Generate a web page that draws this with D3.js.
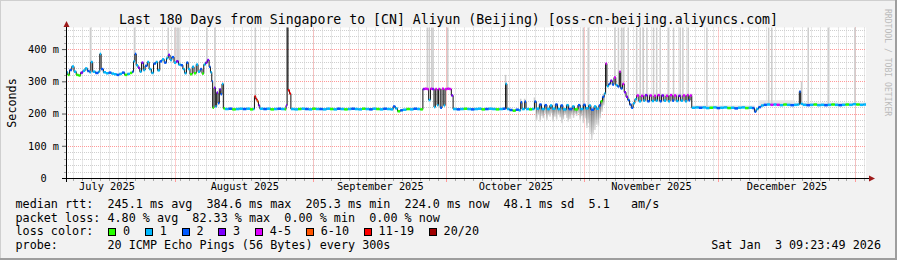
<!DOCTYPE html>
<html>
<head>
<meta charset="utf-8">
<script src="https://cdn.jsdelivr.net/npm/d3@7"></script>
<style>
  body { margin: 0; background: #f2f2f2; }
  text { font-family: "DejaVu Sans Mono", monospace; white-space: pre; }
</style>
</head>
<body>
<div id="viz"></div>
<script>
var width = 897;
var height = 260;

var start = new Date(2025, 6, 7, 9, 23, 49);
var end = new Date(2026, 0, 3, 9, 23, 49);
var DAY = 864e5;

var title = "Last 180 Days from Singapore to [CN] Aliyun (Beijing) [oss-cn-beijing.aliyuncs.com]";
var lossLabels = ["0", "1", "2", "3", "4-5", "6-10", "11-19", "20/20"];
var lossColors = ["#26ff00", "#00b8ff", "#0059ff", "#7e00ff", "#dd00ff", "#ff5500", "#ff0000", "#a00000"];
var yTicks = [0, 100, 200, 300, 400];
var yMax = 467;

// median rtt: [days since start, ms, loss bucket]
var median = [
  [0.0, 328, 1], [0.4, 320, 0], [0.8, 335, 2], [1.3, 346, 1], [1.8, 330, 1], [2.3, 320, 0],
  [2.8, 318, 0], [3.3, 327, 3], [3.8, 333, 1], [4.3, 340, 1], [4.8, 332, 2], [5.3, 328, 1],
  [5.6, 360, 1], [6.0, 330, 1], [6.6, 326, 2], [7.3, 330, 1], [7.6, 385, 1], [7.9, 338, 2],
  [8.4, 328, 1], [9.0, 325, 1], [9.6, 327, 2], [10.2, 324, 1], [10.8, 322, 1], [11.4, 320, 2],
  [12.0, 323, 1], [12.6, 327, 2], [13.2, 320, 0], [13.8, 323, 1], [14.4, 326, 0], [14.9, 330, 2],
  [15.2, 362, 1], [15.5, 385, 2], [15.8, 350, 1], [16.2, 342, 3], [16.6, 330, 1], [17.0, 358, 3],
  [17.4, 335, 1], [17.8, 348, 2], [18.3, 360, 1], [18.7, 338, 1], [19.2, 326, 1], [19.7, 355, 2],
  [20.2, 360, 1], [20.6, 334, 1], [21.1, 362, 2], [21.6, 368, 1], [22.1, 358, 2], [22.6, 372, 1],
  [23.0, 382, 3], [23.4, 366, 1], [23.8, 375, 2], [24.3, 358, 1], [24.8, 362, 3], [25.3, 352, 1],
  [25.8, 350, 2], [26.3, 338, 1], [26.7, 325, 1], [27.1, 358, 2], [27.5, 338, 1], [27.9, 322, 0],
  [28.4, 345, 1], [28.8, 325, 0], [29.3, 352, 1], [29.7, 330, 1], [30.2, 338, 2], [30.6, 324, 0],
  [31.0, 352, 1], [31.4, 358, 3], [31.8, 366, 3], [32.2, 345, 2], [32.5, 328, 1], [32.8, 300, 2],
  [33.0, 218, 0], [33.3, 280, 3], [33.6, 222, 1], [33.9, 265, 3], [34.2, 232, 2], [34.5, 275, 3],
  [34.8, 260, 2], [35.1, 292, 1], [35.4, 216, 0], [35.8, 214, 1],
  [36.6, 215, 2], [37.4, 213, 0], [38.2, 214, 1], [39.0, 215, 1], [39.8, 214, 2], [40.6, 215, 1],
  [41.4, 213, 0], [42.1, 214, 1], [42.4, 253, 6], [42.7, 245, 6], [43.0, 238, 5], [43.3, 225, 3],
  [43.6, 215, 1], [44.4, 214, 2], [45.2, 215, 1], [46.0, 213, 0], [46.8, 214, 1], [47.6, 215, 2],
  [48.4, 214, 1], [49.2, 213, 0], [49.5, 225, 3], [49.75, 480, 7], [49.95, 272, 6], [50.3, 262, 6],
  [50.6, 214, 1], [51.4, 213, 1], [52.2, 214, 0], [53.0, 215, 1], [53.8, 214, 2], [54.6, 213, 1],
  [55.4, 215, 0], [56.2, 214, 1], [57.0, 214, 2], [57.8, 213, 1], [58.6, 215, 1], [59.4, 214, 0],
  [60.2, 213, 1], [61.0, 215, 2], [61.8, 214, 1], [62.6, 213, 0], [63.4, 214, 1], [64.2, 215, 2],
  [65.0, 214, 1], [65.8, 213, 1], [66.6, 215, 0], [67.4, 214, 1], [68.2, 213, 2], [69.0, 215, 1],
  [69.8, 214, 0], [70.6, 213, 1], [71.4, 215, 2], [72.2, 214, 1], [73.0, 213, 1], [73.6, 222, 2],
  [74.1, 216, 1], [74.6, 207, 0], [75.2, 210, 2], [75.8, 212, 1], [76.6, 214, 0], [77.4, 213, 1],
  [78.2, 215, 2], [79.0, 214, 1], [79.7, 213, 0],
  [80.3, 276, 3], [80.7, 277, 4], [81.2, 276, 4], [81.6, 242, 1], [82.0, 277, 4], [82.4, 276, 3],
  [82.8, 220, 1], [83.1, 276, 4], [83.5, 226, 1], [83.8, 276, 4], [84.2, 218, 2], [84.6, 277, 4],
  [85.0, 225, 1], [85.3, 276, 4], [85.8, 277, 4], [86.3, 276, 4], [86.7, 256, 3], [87.1, 214, 1],
  [87.9, 213, 2], [88.7, 214, 1], [89.5, 215, 0], [90.3, 214, 1], [91.1, 213, 2], [91.9, 214, 1],
  [92.7, 215, 1], [93.5, 213, 0], [94.3, 214, 2], [95.1, 215, 1], [95.9, 214, 1], [96.7, 213, 0],
  [97.5, 214, 1], [98.3, 215, 2], [98.9, 292, 1], [99.2, 214, 1], [99.8, 211, 2], [100.5, 209, 0],
  [101.2, 212, 2], [101.9, 210, 1], [102.3, 235, 2], [102.6, 214, 1], [103.2, 237, 2], [103.5, 214, 1],
  [104.2, 213, 0], [104.9, 214, 1], [105.4, 237, 2], [105.8, 215, 1],
  [106.5, 228, 2], [107.0, 214, 1], [107.7, 226, 2], [108.2, 214, 1], [108.9, 225, 1], [109.4, 215, 1],
  [110.1, 228, 2], [110.6, 214, 1], [111.3, 225, 2], [111.8, 213, 1], [112.6, 226, 1], [113.1, 214, 2],
  [113.9, 222, 1], [114.4, 213, 0], [115.2, 226, 2], [115.7, 214, 1], [116.4, 227, 2], [116.9, 216, 1],
  [117.6, 225, 1], [118.1, 212, 2], [118.8, 222, 1], [119.3, 215, 1],
  [119.9, 225, 2], [120.3, 238, 0], [120.7, 252, 2], [121.1, 262, 1], [121.4, 355, 4], [121.7, 285, 1],
  [122.1, 292, 2], [122.5, 302, 3], [122.9, 290, 2], [123.3, 312, 4], [123.7, 288, 1], [124.1, 284, 2],
  [124.5, 330, 4], [124.8, 278, 2], [125.2, 292, 4], [125.6, 266, 3], [126.0, 252, 3], [126.4, 242, 2],
  [126.8, 228, 2], [127.2, 218, 2], [127.6, 232, 1], [128.0, 244, 1],
  [128.4, 256, 4], [128.9, 238, 1], [129.4, 255, 4], [129.9, 240, 1], [130.3, 257, 3], [130.8, 238, 2],
  [131.3, 256, 4], [131.8, 239, 1], [132.3, 255, 4], [132.7, 240, 1], [133.1, 257, 4], [133.6, 238, 2],
  [134.0, 256, 3], [134.5, 240, 1], [135.0, 255, 4], [135.5, 238, 1], [135.9, 257, 4], [136.4, 240, 2],
  [136.8, 256, 4], [137.3, 239, 1], [137.8, 255, 3], [138.3, 240, 1], [138.8, 256, 4], [139.3, 238, 1],
  [139.7, 257, 4], [140.1, 241, 2], [140.4, 256, 4], [140.8, 218, 1],
  [141.6, 219, 1], [142.4, 218, 2], [143.2, 219, 1], [144.0, 217, 1], [144.8, 218, 0], [145.6, 219, 1],
  [146.4, 217, 2], [147.2, 218, 1], [148.0, 219, 1], [148.8, 217, 0], [149.6, 218, 1], [150.4, 216, 2],
  [151.2, 218, 1], [152.0, 219, 1], [152.8, 217, 0], [153.6, 218, 1], [154.4, 217, 2], [154.9, 206, 2],
  [155.3, 214, 1], [155.8, 220, 2], [156.4, 225, 1], [157.0, 227, 2], [157.7, 228, 1], [158.5, 227, 4],
  [159.2, 228, 1], [159.9, 227, 4], [160.6, 226, 1], [161.4, 228, 0], [162.2, 227, 1], [163.0, 226, 2],
  [163.8, 227, 1], [164.6, 228, 1], [165.0, 268, 2], [165.3, 230, 1], [165.8, 227, 1], [166.6, 226, 2],
  [167.4, 227, 1], [168.2, 228, 0], [169.0, 226, 1], [169.8, 227, 1], [170.6, 226, 2], [171.4, 227, 1],
  [172.2, 228, 0], [173.0, 227, 1], [173.8, 226, 2], [174.6, 227, 1], [175.4, 228, 0], [176.2, 227, 1],
  [177.0, 229, 1], [177.8, 228, 0], [178.6, 227, 1], [179.4, 228, 1]
];

// light smoke streaks: [day, from ms, to ms]
var smokeTall = [
  [5.5, 335, 480], [15.4, 360, 480], [23.0, 380, 480], [24.5, 360, 480], [25.0, 360, 480],
  [25.4, 355, 480], [31.7, 360, 480], [33.5, 280, 480], [42.6, 250, 480], [81.3, 276, 480],
  [81.75, 276, 480], [82.3, 276, 480], [82.6, 276, 480], [85.9, 276, 480], [98.9, 292, 320],
  [102.3, 235, 246], [103.2, 237, 246], [105.4, 237, 250], [116.4, 227, 480], [117.5, 225, 480],
  [123.5, 300, 480], [124.3, 290, 480], [125.0, 280, 480], [125.4, 290, 480], [126.5, 240, 480],
  [128.4, 256, 480], [129.2, 250, 480], [129.9, 250, 480], [130.7, 250, 480], [132.2, 255, 480],
  [132.9, 255, 480], [133.7, 255, 480], [135.5, 250, 480], [136.7, 255, 480], [138.2, 250, 480],
  [138.8, 256, 480], [140.0, 250, 480], [144.2, 220, 480], [158.1, 228, 480], [158.8, 228, 480],
  [165.5, 235, 300], [167.0, 228, 480], [171.5, 228, 480], [177.5, 230, 480]
];

// dark smoke below the median: [day, low ms]
var smokeLow = [
  [105.9, 180], [106.3, 195], [106.7, 175], [107.1, 192], [107.4, 185], [107.8, 198], [108.2, 180],
  [108.6, 195], [108.9, 190], [109.3, 200], [109.6, 175], [110.0, 190], [110.4, 181], [110.8, 196],
  [111.2, 188], [111.6, 170], [111.9, 182], [112.3, 196], [112.7, 186], [113.0, 175], [113.4, 183],
  [113.8, 195], [114.2, 186], [114.5, 198], [114.9, 192], [115.3, 200], [115.7, 180], [116.0, 192],
  [116.4, 170], [116.8, 185], [117.2, 155], [117.6, 170], [117.9, 140], [118.3, 118], [118.6, 135],
  [119.0, 149], [119.4, 165], [119.8, 160], [120.2, 185], [120.6, 205], [121.0, 225]
];

// faint smoke bands: [from day, to day, low ms, high ms]
var smokeBand = [
  [128.4, 140.8, 236, 262], [141, 155, 219, 225], [156, 164, 227, 241], [164, 180, 227, 234]
];

var statLines = [
  "median rtt:  245.1 ms avg  384.6 ms max  205.3 ms min  224.0 ms now  48.1 ms sd  5.1   am/s",
  "packet loss: 4.80 % avg  82.33 % max  0.00 % min  0.00 % now"
];
var probeLine = "probe:       20 ICMP Echo Pings (56 Bytes) every 300s";
var stamp = "Sat Jan  3 09:23:49 2026";

function day(d) { return new Date(+start + d * DAY); }

var x = d3.scaleTime().domain([start, end]).range([66, 866]);
var y = d3.scaleLinear().domain([0, yMax]).range([178, 27.5]);
var bis = d3.bisector(function(p) { return p[0]; }).right;
function medAt(d) { return median[Math.max(0, bis(median, d) - 1)][1]; }

var svg = d3.select("#viz").append("svg")
    .attr("width", width)
    .attr("height", height);

svg.append("rect").attr("width", width).attr("height", height).attr("fill", "#f2f2f2");
svg.append("rect").attr("width", width).attr("height", 1).attr("fill", "#cfcfcf");
svg.append("rect").attr("width", 1).attr("height", height).attr("fill", "#cfcfcf");
svg.append("rect").attr("y", height - 2).attr("width", width).attr("height", 2).attr("fill", "#9e9e9e");
svg.append("rect").attr("x", width - 2).attr("width", 2).attr("height", height).attr("fill", "#9e9e9e");

var defs = svg.append("defs");
defs.append("clipPath").attr("id", "plot")
  .append("rect")
    .attr("x", x(start)).attr("y", y(yMax))
    .attr("width", x(end) - x(start)).attr("height", y(0) - y(yMax));
var grad = defs.append("linearGradient").attr("id", "smoke")
    .attr("x1", 0).attr("y1", 0).attr("x2", 0).attr("y2", 1);
grad.append("stop").attr("offset", "0%").attr("stop-color", "#7a7a7a");
grad.append("stop").attr("offset", "100%").attr("stop-color", "#dedede");

// canvas
svg.append("rect")
    .attr("x", x(start)).attr("y", y(yMax))
    .attr("width", x(end) - x(start)).attr("height", y(0) - y(yMax))
    .attr("fill", "#ffffff");

// grid
var minorDays = d3.timeDay.range(d3.timeDay.floor(start), end, 2).filter(function(t) { return t > start; });
var months = d3.timeMonth.range(start, end);
var minorY = d3.range(20, yMax, 20).filter(function(v) { return v % 100; });
var majorY = yTicks.filter(function(v) { return v > 0; });

var grid = svg.append("g").attr("fill", "none").attr("stroke-width", 1).attr("stroke-dasharray", "1,1");
grid.selectAll(".vmin").data(minorDays).enter().append("line")
    .attr("x1", function(t) { return Math.round(x(t)) + 0.5; })
    .attr("x2", function(t) { return Math.round(x(t)) + 0.5; })
    .attr("y1", y(yMax)).attr("y2", y(0))
    .attr("stroke", "#cfcfcf");
grid.selectAll(".hmin").data(minorY).enter().append("line")
    .attr("x1", x(start)).attr("x2", x(end))
    .attr("y1", function(v) { return Math.round(y(v)) + 0.5; })
    .attr("y2", function(v) { return Math.round(y(v)) + 0.5; })
    .attr("stroke", "#cfcfcf");
grid.selectAll(".vmaj").data(months).enter().append("line")
    .attr("x1", function(t) { return Math.round(x(t)) + 0.5; })
    .attr("x2", function(t) { return Math.round(x(t)) + 0.5; })
    .attr("y1", y(yMax)).attr("y2", y(0))
    .attr("stroke", "#ff9999");
grid.selectAll(".hmaj").data(majorY).enter().append("line")
    .attr("x1", x(start)).attr("x2", x(end))
    .attr("y1", function(v) { return Math.round(y(v)) + 0.5; })
    .attr("y2", function(v) { return Math.round(y(v)) + 0.5; })
    .attr("stroke", "#ff9999");

var plot = svg.append("g").attr("clip-path", "url(#plot)");

plot.selectAll(".band").data(smokeBand).enter().append("rect")
    .attr("x", function(b) { return x(day(b[0])); })
    .attr("width", function(b) { return x(day(b[1])) - x(day(b[0])); })
    .attr("y", function(b) { return y(b[3]); })
    .attr("height", function(b) { return y(b[2]) - y(b[3]); })
    .attr("fill", "#e4e4e4");

plot.selectAll(".tall").data(smokeTall).enter().append("rect")
    .attr("x", function(s) { return x(day(s[0])) - 0.75; })
    .attr("width", 1.5)
    .attr("y", function(s) { return y(s[2]); })
    .attr("height", function(s) { return y(s[1]) - y(s[2]); })
    .attr("fill", "#cdcdcd");

plot.selectAll(".low").data(smokeLow).enter().append("rect")
    .attr("x", function(s) { return x(day(s[0])) - 0.8; })
    .attr("width", 1.6)
    .attr("y", function(s) { return y(medAt(s[0])); })
    .attr("height", function(s) { return y(s[1]) - y(medAt(s[0])); })
    .attr("fill", "url(#smoke)");

var line = d3.line()
    .x(function(p) { return x(day(p[0])); })
    .y(function(p) { return y(p[1]); })
    .curve(d3.curveStepAfter);

plot.append("path")
    .datum(median.concat([[180, median[median.length - 1][1]]]))
    .attr("d", line)
    .attr("fill", "none")
    .attr("stroke", "#111")
    .attr("stroke-width", 1);

plot.selectAll(".loss").data(median).enter().append("rect")
    .attr("x", function(p) { return x(day(p[0])); })
    .attr("width", function(p, i) {
      var next = i < median.length - 1 ? median[i + 1][0] : 180;
      return x(day(next)) - x(day(p[0]));
    })
    .attr("y", function(p) { return y(p[1]) - 1.25; })
    .attr("height", 2.5)
    .attr("fill", function(p) { return lossColors[p[2]]; });

// axes
var yAxis = svg.append("g")
    .attr("transform", "translate(66,0)")
    .call(d3.axisLeft(y).tickValues(yTicks).tickSize(4).tickPadding(3)
      .tickFormat(function(v) { return v ? v + " m" : "0  "; }));
yAxis.select(".domain").remove();
yAxis.selectAll("line").attr("stroke", "#555");
yAxis.selectAll("text").attr("font-size", "10.3px").attr("fill", "#000");

svg.selectAll(".ymt").data(minorY).enter().append("line")
    .attr("x1", 64).attr("x2", 66)
    .attr("y1", function(v) { return Math.round(y(v)) + 0.5; })
    .attr("y2", function(v) { return Math.round(y(v)) + 0.5; })
    .attr("stroke", "#aaa");

var mids = d3.timeMonth.range(d3.timeMonth.floor(start), end).map(function(m) {
  return new Date((+m + +d3.timeMonth.offset(m, 1)) / 2);
}).filter(function(t) { return t > start && t < end; });

var xAxis = svg.append("g")
    .attr("transform", "translate(0,178)")
    .call(d3.axisBottom(x).tickValues(mids).tickSize(0).tickPadding(4.7)
      .tickFormat(d3.timeFormat("%B %Y")));
xAxis.select(".domain").remove();
xAxis.selectAll("text").attr("font-size", "10.3px").attr("fill", "#000");

svg.selectAll(".xmt").data(minorDays).enter().append("line")
    .attr("x1", function(t) { return Math.round(x(t)) + 0.5; })
    .attr("x2", function(t) { return Math.round(x(t)) + 0.5; })
    .attr("y1", 179).attr("y2", 181)
    .attr("stroke", "#aaa");
svg.selectAll(".xMt").data(months).enter().append("line")
    .attr("x1", function(t) { return Math.round(x(t)) + 0.5; })
    .attr("x2", function(t) { return Math.round(x(t)) + 0.5; })
    .attr("y1", 179).attr("y2", 182)
    .attr("stroke", "#ff9999");

svg.append("path").attr("d", "M62,178.5H869").attr("stroke", "#000").attr("fill", "none");
svg.append("path").attr("d", "M66.5,182V27").attr("stroke", "#000").attr("fill", "none");
svg.append("path").attr("d", "M869,175.5L875,178.5L869,181.5Z").attr("fill", "#9e1b1b");
svg.append("path").attr("d", "M63.5,27L66.5,21L69.5,27Z").attr("fill", "#9e1b1b");

// texts
svg.append("text")
    .attr("x", width / 2).attr("y", 24)
    .attr("text-anchor", "middle")
    .attr("font-size", "13.2px")
    .text(title);

svg.append("text")
    .attr("transform", "translate(15.5,103) rotate(-90)")
    .attr("text-anchor", "middle")
    .attr("font-size", "11.75px")
    .text("Seconds");

svg.append("text")
    .attr("transform", "translate(885,9) rotate(90)")
    .attr("font-size", "8.1px")
    .attr("fill", "#bbbbbb")
    .text("RRDTOOL / TOBI OETIKER");

var cw = 7.08;
svg.selectAll(".stat").data(statLines).enter().append("text")
    .attr("x", 15.5)
    .attr("y", function(d, i) { return 208 + i * 13.7; })
    .attr("font-size", "11.75px")
    .text(function(d) { return d; });

var legendY = 235.4;
svg.append("text").attr("x", 15.5).attr("y", legendY).attr("font-size", "11.75px").text("loss color:");
var bx = 108.3;
lossLabels.forEach(function(lab, i) {
  svg.append("rect")
      .attr("x", Math.round(bx) + 0.5).attr("y", 228.5)
      .attr("width", 7).attr("height", 7)
      .attr("fill", lossColors[i])
      .attr("stroke", "#000");
  svg.append("text")
      .attr("x", bx + 14.7).attr("y", legendY)
      .attr("font-size", "11.75px")
      .text(lab);
  bx += (4 + lab.length) * cw + 1.3;
});

svg.append("text").attr("x", 15.5).attr("y", 249.1).attr("font-size", "11.75px").text(probeLine);
svg.append("text").attr("x", 881).attr("y", 249.1).attr("text-anchor", "end").attr("font-size", "11.75px").text(stamp);
</script>
</body>
</html>
